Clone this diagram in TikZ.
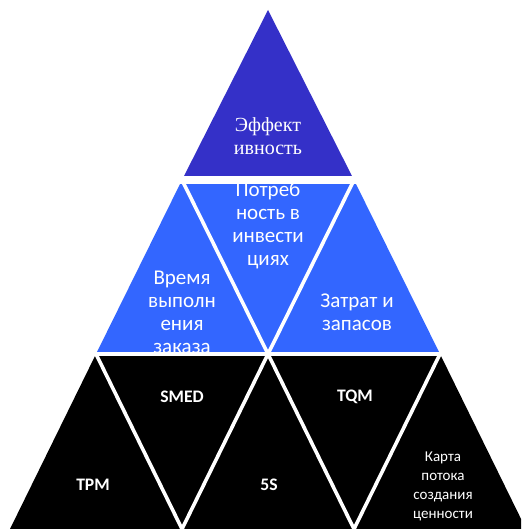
\documentclass[tikz,border=0pt]{standalone}
\usepackage{fontspec}
\setmainfont{Carlito}
\newfontfamily\serifcap{Liberation Serif}
\usetikzlibrary{calc}
\definecolor{topblue}{RGB}{52,48,200}
\definecolor{midblue}{RGB}{51,102,255}
\tikzset{
    toptri/.style={fill=topblue},
    midtri/.style={fill=midblue},
    lowtri/.style={fill=black},
    gapline/.style={white, line width=1.8pt, line cap=round},
    label/.style={text=white, align=center, inner sep=0pt, font=\fontsize{10.5}{11.5}\selectfont},
    toplabel/.style={label, font=\serifcap\fontsize{10}{11.5}\selectfont},
    method/.style={label, font=\bfseries\fontsize{8.8}{9.5}\selectfont},
    smalllabel/.style={label, font=\fontsize{7.5}{9.5}\selectfont}
}

\begin{document}
\begin{tikzpicture}[x=0.5pt, y=-0.5pt]
    \clip (0,0) rectangle (521,529);
    \fill[white] (0,0) rectangle (521,529);
    % узлы решётки: ряд 0 ... ряд 3
    \coordinate (p00) at (268,10);
    \coordinate (p10) at (182,180); \coordinate (p11) at (354,180);
    \coordinate (p20) at (96,354);  \coordinate (p21) at (268,354); \coordinate (p22) at (440,354);
    \coordinate (p30) at (10,529);  \coordinate (p31) at (182,529);
    \coordinate (p32) at (354,529); \coordinate (p33) at (526,529);

    \fill[toptri] (p00) -- (p10) -- (p11) -- cycle;
    \fill[midtri] (p10) -- (p20) -- (p22) -- (p11) -- cycle;
    \fill[lowtri] (p20) -- (p30) -- (p33) -- (p22) -- cycle;

    \node[toplabel] (eff) at (268,136) {Эффект\\ивность};
    \node[label] (inv) at (268,226) {Потреб\\ность в\\инвести\\циях};
    \node[label] (time) at (182,312) {Время\\выполн\\ения\\заказа};
    \node[label] (cost) at (357,312) {Затрат и\\запасов};
    \node[method] (smed) at (182,397) {SMED};
    \node[method] (tqm) at (355,397) {TQM};
    \node[method] (tpm) at (93,485) {TPM};
    \node[method] (fives) at (269,485) {5S};
    \node[smalllabel] (vsm) at (443,486) {Карта\\потока\\создания\\ценности};

    % белые разделители между треугольниками
    \draw[gapline, line width=4pt, line cap=butt] (0,180) -- (521,180);
    \draw[gapline, line width=2pt, line cap=butt] (0,354) -- (521,354);
    \draw[gapline] (p10) -- (p21) -- (p32);
    \draw[gapline] (p11) -- (p21) -- (p31);
    \draw[gapline] (p20) -- (p31);
    \draw[gapline] (p22) -- (p32);
\end{tikzpicture}
\end{document}
